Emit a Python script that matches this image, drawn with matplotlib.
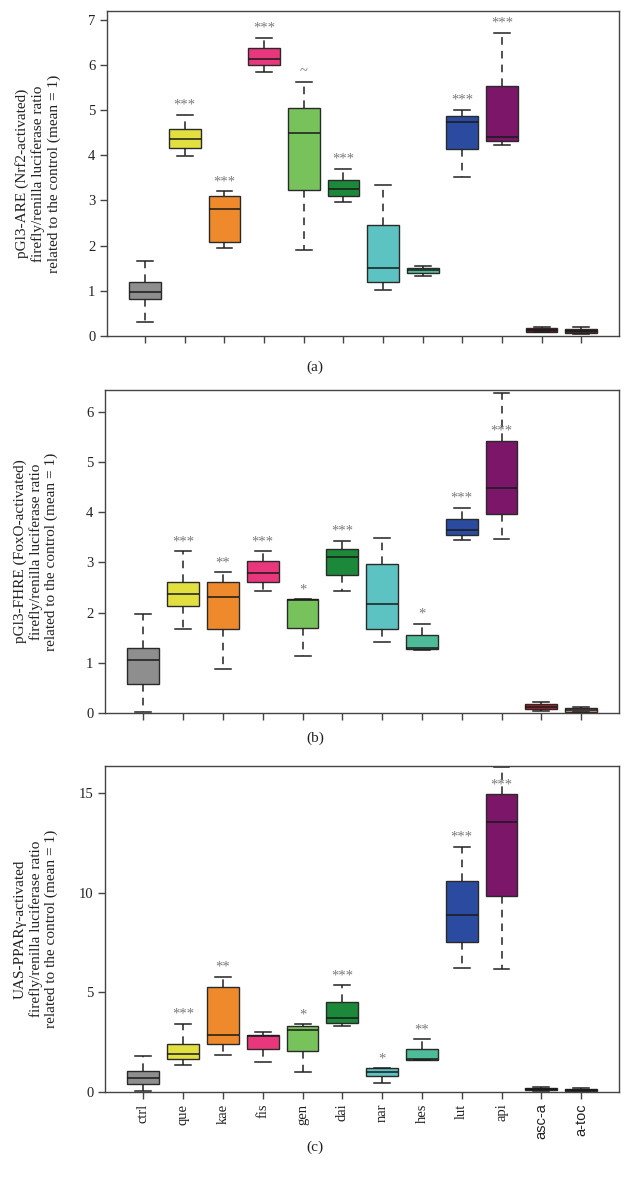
import matplotlib
matplotlib.use("Agg")
from matplotlib import pyplot as plt

plt.rcParams['font.family'] = ['Liberation Serif', 'DejaVu Serif']

compounds = ['ctrl', 'que', 'kae', 'fis', 'gen', 'dai', 'nar', 'hes', 'lut', 'api', 'asc-a', 'a-toc']

# (a) pGl3-ARE (Nrf2)
a_lo  = [0.31, 3.98, 1.95, 5.85, 1.91, 2.96, 1.01, 1.33, 3.52, 4.22, 0.08, 0.05]
a_q1  = [0.81, 4.15, 2.09, 6.00, 3.22, 3.10, 1.20, 1.40, 4.13, 4.31, 0.09, 0.07]
a_med = [0.98, 4.35, 2.81, 6.12, 4.50, 3.26, 1.50, 1.45, 4.73, 4.40, 0.13, 0.12]
a_q3  = [1.19, 4.57, 3.10, 6.37, 5.05, 3.46, 2.46, 1.51, 4.86, 5.54, 0.18, 0.16]
a_hi  = [1.65, 4.90, 3.20, 6.60, 5.63, 3.70, 3.35, 1.56, 5.01, 6.70, 0.20, 0.19]
a_sig = ['', '***', '***', '***', '~', '***', '', '', '***', '***', '', '']

# (b) pGl3-FHRE (FoxO)
b_lo  = [0.03, 1.68, 0.87, 2.42, 1.13, 2.43, 1.41, 1.26, 3.44, 3.47, 0.05, 0.02]
b_q1  = [0.58, 2.13, 1.67, 2.61, 1.69, 2.75, 1.67, 1.28, 3.54, 3.97, 0.08, 0.03]
b_med = [1.05, 2.36, 2.30, 2.79, 2.25, 3.10, 2.17, 1.29, 3.64, 4.48, 0.13, 0.07]
b_q3  = [1.29, 2.60, 2.61, 3.02, 2.26, 3.26, 2.96, 1.55, 3.87, 5.42, 0.18, 0.11]
b_hi  = [1.98, 3.22, 2.80, 3.22, 2.26, 3.42, 3.49, 1.77, 4.09, 6.38, 0.21, 0.13]
b_sig = ['', '***', '**', '***', '*', '***', '', '*', '***', '***', '', '']

# (c) UAS-PPARgamma
c_lo  = [0.03, 1.32, 1.84, 1.51, 0.97, 3.30, 0.45, 1.61, 6.21, 6.15, 0.05, 0.03]
c_q1  = [0.39, 1.64, 2.38, 2.14, 2.06, 3.47, 0.77, 1.61, 7.52, 9.85, 0.08, 0.03]
c_med = [0.67, 1.91, 2.86, 2.80, 3.12, 3.69, 1.00, 1.64, 8.86, 13.53, 0.13, 0.08]
c_q3  = [1.04, 2.38, 5.26, 2.86, 3.28, 4.49, 1.17, 2.14, 10.57, 14.94, 0.20, 0.15]
c_hi  = [1.78, 3.42, 5.75, 3.00, 3.38, 5.34, 1.17, 2.63, 12.31, 16.33, 0.22, 0.17]
c_sig = ['', '***', '**', '', '*', '***', '*', '**', '***', '***', '', '']

base_colors = ['#8E8E8E', '#E2E040', '#EE8A2C', '#E8377C', '#78C25C', '#1C883A',
               '#5CC2C2', '#4EBC98', '#2B4BA0', '#7C1668']
tail_colors = {'a': ['#6E1424', '#4A2C22'], 'b': ['#B4202C', '#C8A090'], 'c': ['#111111', '#111111']}

panels = [
  ('a', a_lo, a_q1, a_med, a_q3, a_hi, a_sig, 7.19, list(range(0, 8)),
   'pGl3-ARE (Nrf2-activated)\nfirefly/renilla luciferase ratio\nrelated to the control (mean = 1)'),
  ('b', b_lo, b_q1, b_med, b_q3, b_hi, b_sig, 6.43, list(range(0, 7)),
   'pGl3-FHRE (FoxO-activated)\nfirefly/renilla luciferase ratio\nrelated to the control (mean = 1)'),
  ('c', c_lo, c_q1, c_med, c_q3, c_hi, c_sig, 16.37, [0, 5, 10, 15],
   'UAS-PPAR\u03b3-activated\nfirefly/renilla luciferase ratio\nrelated to the control (mean = 1)'),
]

# axes rectangles in figure fractions (left, bottom, width, height)
rects = {'a': [0.170, 0.7174, 0.813, 0.2733],
         'b': [0.167, 0.4003, 0.816, 0.2717],
         'c': [0.167, 0.0818, 0.816, 0.2740]}
caption_y = {'a': 0.691, 'b': 0.379, 'c': 0.035}

fig = plt.figure(figsize=(6.3, 11.89), dpi=100)
spine_col = '#444444'

for key, lo, q1, med, q3, hi, sig, ytop, yticks, ylabel in panels:
  ax = fig.add_axes(rects[key])
  stats = []
  for i, name in enumerate(compounds):
    stats.append({'label': name, 'whislo': lo[i], 'q1': q1[i], 'med': med[i],
                  'q3': q3[i], 'whishi': hi[i], 'fliers': []})
  positions = list(range(1, len(compounds) + 1))
  bp = ax.bxp(stats, positions=positions, widths=0.8, capwidths=0.4, patch_artist=True,
              showfliers=False,
              boxprops=dict(edgecolor='#2a2a2a', linewidth=1.0),
              medianprops=dict(color='#1a1a1a', linewidth=1.1),
              whiskerprops=dict(color='#222222', linewidth=1.1, linestyle=(0, (5, 4))),
              capprops=dict(color='#222222', linewidth=1.1))
  colors = base_colors + tail_colors[key]
  for patch, col in zip(bp['boxes'], colors):
    patch.set_facecolor(col)

  pad = 0.03 * ytop
  for i, mark in enumerate(sig):
    if not mark:
      continue
    y = hi[i] + pad
    if y > 0.98 * ytop:
      y = q3[i] + pad
    ax.text(positions[i], y, mark, ha='center', va='center', fontsize=10.5, color='#7a7a7a')

  ax.set_xlim(0.04, 12.96)
  ax.set_ylim(0, ytop)
  ax.set_yticks(yticks)
  ax.set_xticks(positions)
  if key == 'c':
    ax.set_xticklabels(compounds, rotation=90, fontsize=10.5)
    for lab in ax.get_xticklabels()[-2:]:
      lab.set_family(['Liberation Sans', 'DejaVu Sans'])
      lab.set_fontsize(9)
  else:
    ax.set_xticklabels([])
  ax.tick_params(direction='out', length=5, width=1, colors=spine_col, labelcolor='#222222',
                 labelsize=10.5)
  for sp in ax.spines.values():
    sp.set_color(spine_col)
    sp.set_linewidth(1.0)
  ax.set_ylabel(ylabel, fontsize=11, color='#222222', linespacing=1.2,
                va='center', ha='center')
  ax.yaxis.set_label_coords(-0.135, 0.5)
  fig.text(0.5, caption_y[key], f'({key})', ha='center', va='center', fontsize=11, color='#222222')

plt.savefig('out.png', dpi=100)
